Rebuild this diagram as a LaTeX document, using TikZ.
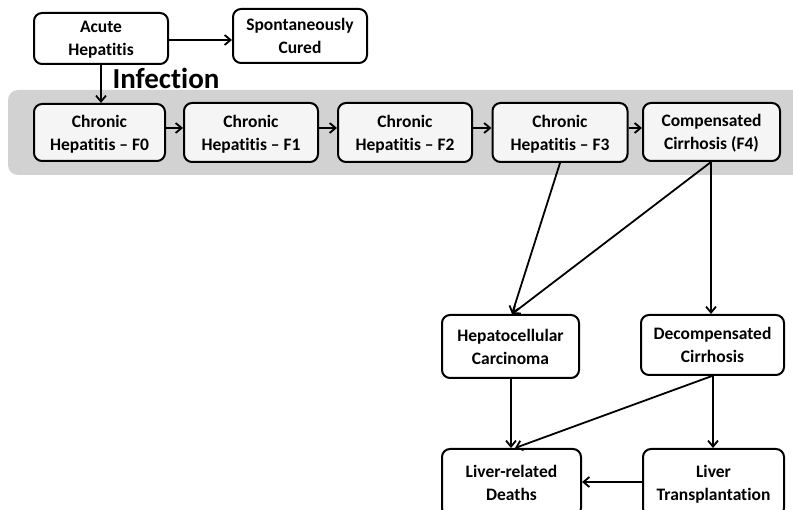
\documentclass[tikz,border=0pt]{standalone}
\usepackage{fontspec}
\setmainfont[Ligatures=NoCommon]{Carlito}
\usetikzlibrary{arrows.meta}
\begin{document}
\begin{tikzpicture}[x=1pt,y=-1pt,
  box/.style={draw=black, line width=2pt, rounded corners=8pt, fill=white, align=center,
    font=\fontsize{17.5}{23}\selectfont\bfseries, inner sep=0pt, text depth=0pt},
  cbox/.style={box, fill=gray!8},
  arr/.style={line width=1.8pt, -{Straight Barb[length=6pt,width=10pt,line width=1.8pt]}}]
\useasboundingbox (0,0) rectangle (793,510);
\begin{scope}
\clip (0,0) rectangle (793,510);
\fill[gray!35, rounded corners=10pt] (8,90) rectangle (810,175);
\node[box, minimum width=134pt, minimum height=51pt] (acute) at (101,38.5) {Acute\\Hepatitis};
\node[box, minimum width=134pt, minimum height=54pt] (cured) at (300,36) {Spontaneously\\Cured};
\node[font=\fontsize{29}{32}\selectfont\bfseries, anchor=west] (inf) at (109,78) {Infection};
\node[cbox, minimum width=131pt, minimum height=57pt] (f0) at (99.5,132.5) {Chronic\\Hepatitis -- F0};
\node[cbox, minimum width=134pt, minimum height=59pt] (f1) at (251,132.5) {Chronic\\Hepatitis -- F1};
\node[cbox, minimum width=134pt, minimum height=59pt] (f2) at (405,132.5) {Chronic\\Hepatitis -- F2};
\node[cbox, minimum width=135pt, minimum height=59pt] (f3) at (560,132.5) {Chronic\\Hepatitis -- F3};
\node[cbox, minimum width=137pt, minimum height=58pt] (f4) at (711.5,132) {Compensated\\Cirrhosis (F4)};
\node[box, minimum width=137pt, minimum height=63pt] (hcc) at (510.5,346.5) {Hepatocellular\\Carcinoma};
\node[box, minimum width=143pt, minimum height=60pt] (dec) at (712.5,345) {Decompensated\\Cirrhosis};
\node[box, minimum width=139pt, minimum height=67pt] (death) at (511.5,482.5) {Liver-related\\Deaths};
\node[box, minimum width=141pt, minimum height=67pt] (trans) at (713.5,482.5) {Liver\\Transplantation};
\draw[arr] (acute.east |- 0,40) -- (cured.west |- 0,40);
\draw[arr] (acute.south) -- (f0.north -| acute.south);
\draw[arr] (f0.east |- 0,128) -- (f1.west |- 0,128);
\draw[arr] (f1.east |- 0,128) -- (f2.west |- 0,128);
\draw[arr] (f2.east |- 0,128) -- (f3.west |- 0,128);
\draw[arr] (f3.east |- 0,128) -- (f4.west |- 0,128);
\coordinate (f3b) at (f3.south -| 560,0);
\coordinate (f4b) at (f4.south -| 711,0);
\coordinate (hcct) at (hcc.north -| 512,0);
\draw[arr] (f3b) -- (hcct);
\draw[arr] (f4b) -- (hcct);
\draw[arr] (f4b) -- (dec.north -| 711,0);
\draw[arr] (hcc.south -| 511,0) -- (death.north -| 511,0);
\draw[arr] (dec.south -| 712,0) -- (death.north -| 515,0);
\draw[arr] (dec.south -| 713,0) -- (trans.north -| 713,0);
\draw[arr] (trans.west |- 0,482) -- (death.east |- 0,482);
\end{scope}
\end{tikzpicture}
\end{document}
